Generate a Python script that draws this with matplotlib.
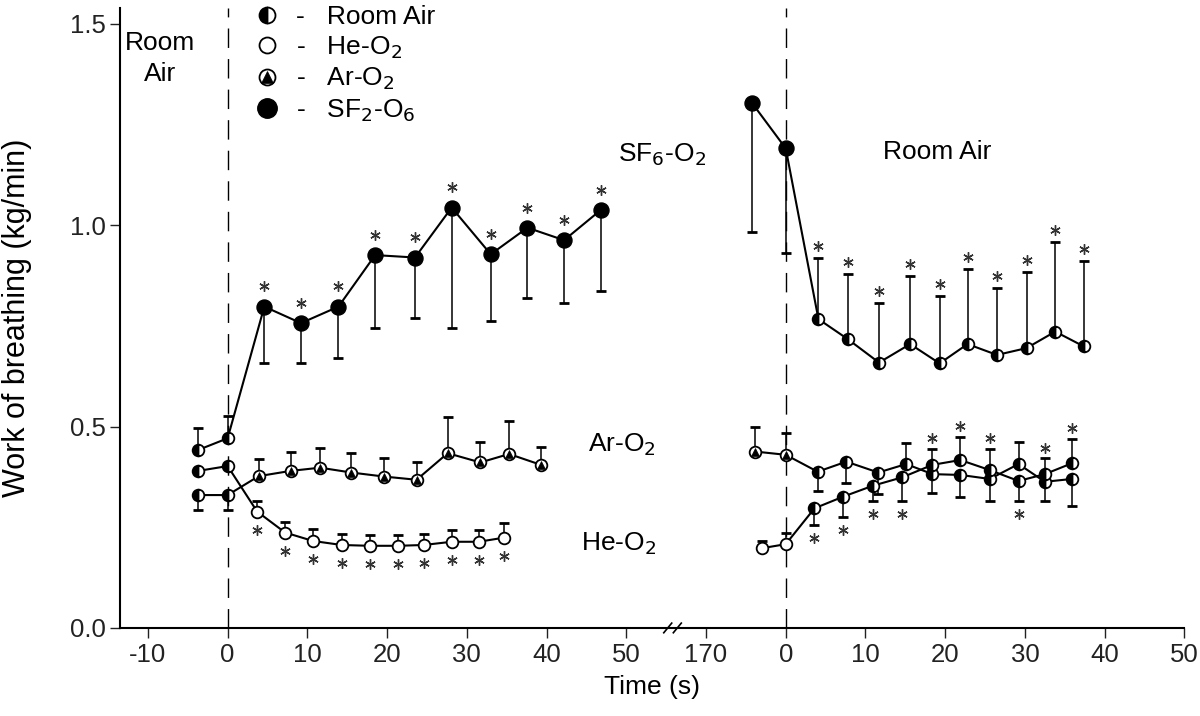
import matplotlib
matplotlib.use("Agg")
import numpy as np
import matplotlib.pyplot as plt
from matplotlib.lines import Line2D
from matplotlib.legend_handler import HandlerTuple

plt.rcParams['font.family'] = ['Liberation Sans', 'DejaVu Sans']

# the recovery (right) panel shares the axis, shifted by this many seconds
RIGHT_OFFSET = 70

# ---------------- left panel: switch from room air to test gas ----------------
base_t = [-3.7, 0]
sf6_base = [0.442, 0.471]
sf6_base_sd = [0.054, 0.055]
he_base = [0.390, 0.402]
ar_base = [0.330, 0.330]
ar_base_sd = [0.036, 0.037]

sf6_t = [4.6, 9.2, 13.9, 18.5, 23.5, 28.1, 33.0, 37.6, 42.2, 46.8]
sf6_v = [0.798, 0.757, 0.798, 0.926, 0.920, 1.044, 0.928, 0.994, 0.963, 1.038]
sf6_sd = [0.139, 0.100, 0.127, 0.182, 0.149, 0.300, 0.165, 0.175, 0.157, 0.201]

ar_t = [3.9, 7.9, 11.6, 15.5, 19.6, 23.7, 27.6, 31.7, 35.3, 39.3]
ar_v = [0.377, 0.390, 0.398, 0.386, 0.376, 0.368, 0.434, 0.411, 0.432, 0.405]
ar_sd = [0.042, 0.046, 0.050, 0.049, 0.047, 0.045, 0.091, 0.052, 0.082, 0.045]

he_t = [3.7, 7.2, 10.7, 14.3, 17.8, 21.4, 24.6, 28.1, 31.5, 34.6]
he_v = [0.289, 0.237, 0.216, 0.206, 0.204, 0.204, 0.206, 0.214, 0.214, 0.224]
he_sd = [0.027, 0.027, 0.030, 0.028, 0.028, 0.028, 0.028, 0.028, 0.030, 0.037]

# ---------------- right panel: back to room air ----------------
sf6r_base_t = [-4.2, 0]
sf6r_base = [1.303, 1.191]
sf6r_base_sd = [0.320, 0.261]
ra_t = [4.1, 7.8, 11.7, 15.6, 19.3, 22.8, 26.5, 30.2, 33.8, 37.4]
ra_v = [0.767, 0.717, 0.659, 0.705, 0.657, 0.705, 0.678, 0.695, 0.736, 0.699]
ra_sd = [0.151, 0.161, 0.149, 0.169, 0.167, 0.186, 0.167, 0.188, 0.222, 0.212]

arr_base_t = [-3.8, 0]
arr_base = [0.438, 0.430]
arr_base_sd = [0.062, 0.055]
arr_t = [4.0, 7.6, 11.6, 15.1, 18.4, 21.9, 25.6, 29.2, 32.5, 35.9]
arr_v = [0.388, 0.413, 0.386, 0.407, 0.382, 0.380, 0.370, 0.407, 0.363, 0.370]
arr_lo = [0.048, 0.054, 0.054, 0.0, 0.048, 0.055, 0.054, 0.0, 0.048, 0.067]
arr_hi = [0.0, 0.0, 0.0, 0.052, 0.0, 0.0, 0.0, 0.056, 0.0, 0.0]

her_base_t = [-3.0, 0]
her_base = [0.198, 0.208]
her_base_sd = [0.019, 0.029]
her_t = [3.6, 7.2, 10.9, 14.6, 18.4, 21.9, 25.6, 29.2, 32.5, 35.9]
her_v = [0.297, 0.326, 0.353, 0.374, 0.405, 0.417, 0.392, 0.365, 0.382, 0.409]
her_lo = [0.041, 0.051, 0.037, 0.058, 0.0, 0.0, 0.0, 0.050, 0.0, 0.0]
her_hi = [0.0, 0.0, 0.0, 0.0, 0.039, 0.058, 0.052, 0.0, 0.039, 0.060]

x_ticks = [-10, 0, 10, 20, 30, 40, 50, 60, 70, 80, 90, 100, 110, 120]
x_labels = ['-10', '0', '10', '20', '30', '40', '50', '170',
            '0', '10', '20', '30', '40', '50']

FS = 19
TICK_FS = 18.5
SMALL = 8.4
BIG = 10.8

room = dict(marker='o', ms=SMALL, fillstyle='left', mfc='black',
            mfcalt='white', mec='black', mew=1.3, ls='none', zorder=5)
he = dict(marker='o', ms=SMALL, mfc='white', mec='black', mew=1.3,
          ls='none', zorder=5)
ar_c = dict(marker='o', ms=SMALL, mfc='white', mec='black', mew=1.3,
            ls='none', zorder=5)
ar_tri = dict(marker='^', ms=5.6, mfc='black', mec='black', mew=0.5,
              ls='none', zorder=6)
sf6 = dict(marker='o', ms=BIG, mfc='black', mec='black', ls='none', zorder=5)
err = dict(fmt='none', ecolor='black', elinewidth=1.1, capsize=3.4,
           capthick=2.0, zorder=3)
star = dict(marker=(6, 2, 0), ms=7.5, mec='#333333', mew=1.0, ls='none',
            zorder=6)
line = dict(color='black', lw=1.5, zorder=4)


def shift(ts):
    return [t + RIGHT_OFFSET for t in ts]


fig = plt.figure(figsize=(12, 7.16), dpi=100)
ax = fig.add_axes([0.1, 0.123, 0.887, 0.866])

# ----- left panel -----
ax.plot(base_t + sf6_t, sf6_base + sf6_v, **line)
ax.plot(base_t + he_t, he_base + he_v, **line)
ax.plot(base_t + ar_t, ar_base + ar_v, **line)

ax.errorbar(base_t, sf6_base, yerr=[[0, 0], sf6_base_sd], **err)
ax.errorbar(base_t, ar_base, yerr=[ar_base_sd, [0, 0]], **err)
ax.errorbar(sf6_t, sf6_v, yerr=[sf6_sd, [0] * len(sf6_sd)], **err)
ax.errorbar(ar_t, ar_v, yerr=[[0] * len(ar_sd), ar_sd], **err)
ax.errorbar(he_t, he_v, yerr=[[0] * len(he_sd), he_sd], **err)

ax.plot(base_t, sf6_base, **room)
ax.plot(base_t, he_base, **room)
ax.plot(base_t, ar_base, **room)
ax.plot(sf6_t, sf6_v, **sf6)
ax.plot(he_t, he_v, **he)
ax.plot(ar_t, ar_v, **ar_c)
ax.plot(ar_t, ar_v, **ar_tri)

ax.plot(sf6_t, np.array(sf6_v) + 0.05, **star)
ax.plot(he_t, np.array(he_v) - 0.045, **star)

# ----- right panel -----
ax.plot(shift(sf6r_base_t + ra_t), sf6r_base + ra_v, **line)
ax.plot(shift(arr_base_t + arr_t), arr_base + arr_v, **line)
ax.plot(shift(her_base_t + her_t), her_base + her_v, **line)

ax.errorbar(shift(sf6r_base_t), sf6r_base, yerr=[sf6r_base_sd, [0, 0]], **err)
ax.errorbar(shift(ra_t), ra_v, yerr=[[0] * len(ra_sd), ra_sd], **err)
ax.errorbar(shift(arr_base_t), arr_base, yerr=[[0, 0], arr_base_sd], **err)
ax.errorbar(shift(arr_t), arr_v, yerr=[arr_lo, arr_hi], **err)
ax.errorbar(shift(her_base_t), her_base, yerr=[[0, 0], her_base_sd], **err)
ax.errorbar(shift(her_t), her_v, yerr=[her_lo, her_hi], **err)

ax.plot(shift(sf6r_base_t), sf6r_base, **sf6)
ax.plot(shift(ra_t), ra_v, **room)
ax.plot(shift(arr_base_t), arr_base, **ar_c)
ax.plot(shift(arr_base_t), arr_base, **ar_tri)
ax.plot(shift(arr_t), arr_v, **room)
ax.plot(shift(her_base_t), her_base, **he)
ax.plot(shift(her_t), her_v, **room)

ax.plot(shift(ra_t), np.array(ra_v) + np.array(ra_sd) + 0.03, **star)
her_star = []
for v, lo, hi in zip(her_v, her_lo, her_hi):
    her_star.append(v - lo - 0.032 if lo > 0 else v + hi + 0.027)
ax.plot(shift(her_t), her_star, **star)

# switch-over markers
for x0 in (0, RIGHT_OFFSET):
    ax.axvline(x0, color='black', lw=1.0, ls=(0, (14, 8)), zorder=1)

# labels on the plot
ax.text(-8.5, 1.415, 'Room\nAir', ha='center', va='center', fontsize=FS,
        linespacing=1.35)
ax.text(54.5, 1.175, 'SF$_6$-O$_2$', ha='center', va='center', fontsize=FS)
ax.text(89, 1.182, 'Room Air', ha='center', va='center', fontsize=FS)
ax.text(49.5, 0.455, 'Ar-O$_2$', ha='center', va='center', fontsize=FS)
ax.text(49, 0.21, 'He-O$_2$', ha='center', va='center', fontsize=FS)

# legend
h_room = Line2D([], [], **{**room, 'ms': 11.5})
h_he = Line2D([], [], **{**he, 'ms': 11.5})
h_ar = (Line2D([], [], **{**ar_c, 'ms': 11.5}),
        Line2D([], [], **{**ar_tri, 'ms': 8.5}))
h_sf6 = Line2D([], [], **{**sf6, 'ms': 14})
ax.legend([h_room, h_he, h_ar, h_sf6],
          ['-   Room Air', '-   He-O$_2$', '-   Ar-O$_2$', '-   SF$_2$-O$_6$'],
          handler_map={tuple: HandlerTuple(ndivide=1, pad=0)},
          loc='upper left', bbox_to_anchor=(0.126, 1.005), frameon=False,
          fontsize=FS, handlelength=1.0, handletextpad=0.6, labelspacing=0.2,
          borderaxespad=0, borderpad=0)

# axis break mark on the time axis
bx = 55.8
for dx in (-0.6, 0.6):
    ax.plot([bx + dx - 0.5, bx + dx + 0.5], [-0.012, 0.012], color='black',
            lw=1.2, clip_on=False, zorder=7)

ax.set_xlim(-13.5, 120)
ax.set_ylim(0, 1.54)
ax.set_xticks(x_ticks)
ax.set_xticklabels(x_labels)
ax.set_yticks([0.0, 0.5, 1.0, 1.5])
ax.set_yticklabels(['0.0', '0.5', '1.0', '1.5'])
ax.tick_params(labelsize=TICK_FS, direction='out', length=7, width=1.0,
               colors='#222222')
ax.spines['top'].set_visible(False)
ax.spines['right'].set_visible(False)
ax.spines['left'].set_linewidth(1.5)
ax.spines['bottom'].set_linewidth(1.5)
ax.set_xlabel('Time (s)', fontsize=FS, labelpad=6)
ax.set_ylabel('Work of breathing (kg/min)', fontsize=22)
ax.yaxis.set_label_coords(-0.083, 0.5)

fig.savefig('out.png', dpi=100)
